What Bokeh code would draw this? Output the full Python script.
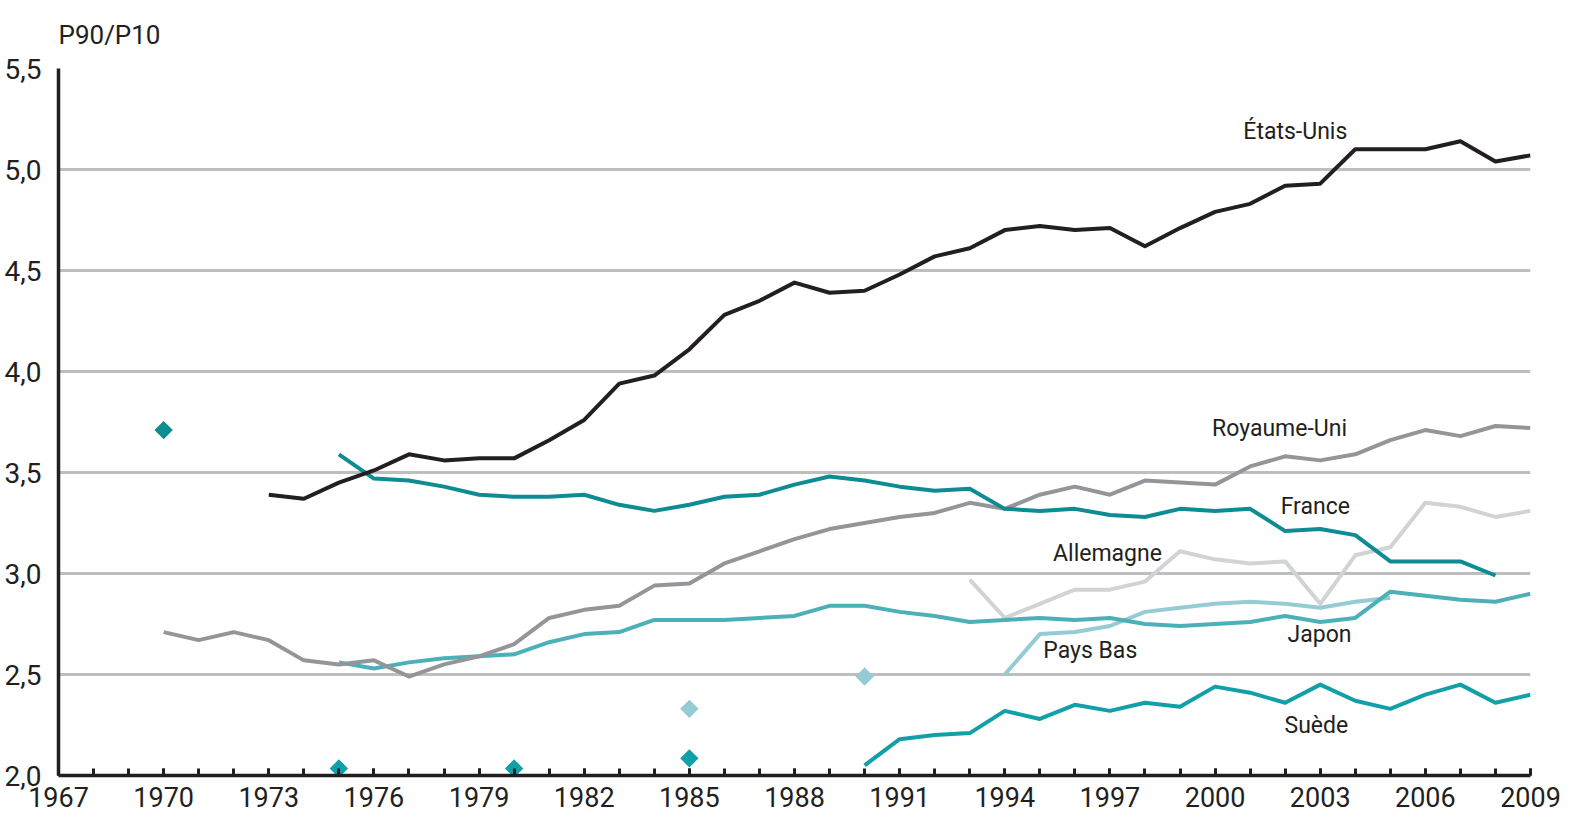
import math
from bokeh.plotting import figure
from bokeh.models import Range1d, FixedTicker, CustomJSTickFormatter
from bokeh.core.properties import value
from bokeh.embed import file_html
from bokeh.resources import INLINE

FONT = "Roboto"
TEXT = "#231f20"

# ---------------- data ----------------
years_us = list(range(1973, 2010))
us = [3.39, 3.37, 3.45, 3.51, 3.59, 3.56, 3.57, 3.57, 3.66, 3.76, 3.94, 3.98,
      4.11, 4.28, 4.35, 4.44, 4.39, 4.40, 4.48, 4.57, 4.61, 4.70, 4.72, 4.70,
      4.71, 4.62, 4.71, 4.79, 4.83, 4.92, 4.93, 5.10, 5.10, 5.10, 5.14, 5.04, 5.07]

years_uk = list(range(1970, 2010))
uk = [2.71, 2.67, 2.71, 2.67, 2.57, 2.55, 2.57, 2.49, 2.55, 2.59, 2.65, 2.78,
      2.82, 2.84, 2.94, 2.95, 3.05, 3.11, 3.17, 3.22, 3.25, 3.28, 3.30, 3.35,
      3.32, 3.39, 3.43, 3.39, 3.46, 3.45, 3.44, 3.53, 3.58, 3.56, 3.59, 3.66,
      3.71, 3.68, 3.73, 3.72]

years_fr = list(range(1975, 2009))
france = [3.59, 3.47, 3.46, 3.43, 3.39, 3.38, 3.38, 3.39, 3.34, 3.31, 3.34, 3.38,
          3.39, 3.44, 3.48, 3.46, 3.43, 3.41, 3.42, 3.32, 3.31, 3.32, 3.29, 3.28,
          3.32, 3.31, 3.32, 3.21, 3.22, 3.19, 3.06, 3.06, 3.06, 2.99]

years_jp = list(range(1975, 2010))
japan = [2.56, 2.53, 2.56, 2.58, 2.59, 2.60, 2.66, 2.70, 2.71, 2.77, 2.77, 2.77,
         2.78, 2.79, 2.84, 2.84, 2.81, 2.79, 2.76, 2.77, 2.78, 2.77, 2.78, 2.75,
         2.74, 2.75, 2.76, 2.79, 2.76, 2.78, 2.91, 2.89, 2.87, 2.86, 2.90]

years_de = list(range(1993, 2010))
germany = [2.97, 2.78, 2.85, 2.92, 2.92, 2.96, 3.11, 3.07, 3.05, 3.06, 2.85,
           3.09, 3.13, 3.35, 3.33, 3.28, 3.31]

years_nl = list(range(1994, 2006))
netherlands = [2.50, 2.70, 2.71, 2.74, 2.81, 2.83, 2.85, 2.86, 2.85, 2.83, 2.86, 2.88]

years_se = list(range(1990, 2010))
sweden = [2.05, 2.18, 2.20, 2.21, 2.32, 2.28, 2.35, 2.32, 2.36, 2.34, 2.44, 2.41,
          2.36, 2.45, 2.37, 2.33, 2.40, 2.45, 2.36, 2.40]

# isolated observations
fr_pts_years = [1970]
fr_pts = [3.71]
se_pts_years = [1975, 1980, 1985]
se_pts = [2.035, 2.035, 2.085]
nl_pts_years = [1985, 1990]
nl_pts = [2.33, 2.49]

# axes
x_tick_years = list(range(1967, 2010, 3))
x_minor_years = list(range(1967, 2010))
y_ticks = [2.0, 2.5, 3.0, 3.5, 4.0, 4.5, 5.0, 5.5]

# series labels
label_text = ["États-Unis", "Royaume-Uni", "France", "Allemagne", "Pays Bas", "Japon", "Suède"]
label_x = [2002.29, 2001.84, 2002.86, 1996.93, 1996.44, 2002.98, 2002.89]
label_y = [5.19, 3.72, 3.33, 3.10, 2.62, 2.70, 2.25]

# ---------------- colours ----------------
C_US = "#231f20"
C_UK = "#939598"
C_FR = "#0e8c93"
C_JP = "#4cb0b8"
C_DE = "#d1d3d4"
C_NL = "#95ccd4"
C_SE = "#12a0a8"

p = figure(width=1568, height=812,
           x_range=Range1d(1967, 2009), y_range=Range1d(2.0, 5.5),
           output_backend="svg", toolbar_location=None,
           min_border_left=58, min_border_right=38,
           min_border_top=68, min_border_bottom=37,
           title="P90/P10")
p.outline_line_color = None
p.background_fill_color = "white"
p.border_fill_color = "white"

# unit label as title
p.title.align = "left"
p.title.vertical_align = "top"
p.title.text_font = FONT
p.title.text_font_size = "26px"
p.title.text_font_style = "normal"
p.title.text_color = TEXT
p.title.standoff = 34

p.xgrid.visible = False
p.ygrid.ticker = FixedTicker(ticks=y_ticks)
p.ygrid.grid_line_color = "#bcbec0"
p.ygrid.grid_line_width = 3

# y axis
p.yaxis.ticker = FixedTicker(ticks=y_ticks)
p.yaxis.formatter = CustomJSTickFormatter(code="return tick.toFixed(1).replace('.', ',');")
p.yaxis.major_tick_line_color = None
p.yaxis.minor_tick_line_color = None
p.yaxis.axis_line_color = TEXT
p.yaxis.axis_line_width = 3.5
p.yaxis.major_label_text_font = FONT
p.yaxis.major_label_text_font_size = "28px"
p.yaxis.major_label_text_color = TEXT
p.yaxis.major_label_standoff = 11

# x axis
p.xaxis.ticker = FixedTicker(ticks=x_tick_years, minor_ticks=x_minor_years)
p.xaxis.axis_line_color = TEXT
p.xaxis.axis_line_width = 3.5
p.xaxis.major_tick_in = 7
p.xaxis.major_tick_out = 0
p.xaxis.major_tick_line_width = 3
p.xaxis.major_tick_line_color = TEXT
p.xaxis.minor_tick_in = 7
p.xaxis.minor_tick_out = 0
p.xaxis.minor_tick_line_width = 3
p.xaxis.minor_tick_line_color = TEXT
p.xaxis.major_label_text_font = FONT
p.xaxis.major_label_text_font_size = "27px"
p.xaxis.major_label_text_color = TEXT
p.xaxis.major_label_text_line_height = 0.7
p.xaxis.major_label_standoff = 11

# lines
series = [
    (years_de, germany, C_DE),
    (years_nl, netherlands, C_NL),
    (years_jp, japan, C_JP),
    (years_uk, uk, C_UK),
    (years_se, sweden, C_SE),
    (years_fr, france, C_FR),
    (years_us, us, C_US),
]
for xs, ys, c in series:
    p.line(xs, ys, line_color=c, line_width=4, line_join="round")

# isolated diamonds
for xs, ys, c in [(fr_pts_years, fr_pts, C_FR), (se_pts_years, se_pts, C_SE),
                  (nl_pts_years, nl_pts, C_NL)]:
    p.scatter(xs, ys, marker="square", angle=math.pi / 4, size=13,
              fill_color=c, line_color=None)

# series labels
p.text(x=label_x, y=label_y, text=label_text,
       text_font=value(FONT), text_font_size="23px", text_color=TEXT,
       text_align="center", text_baseline="middle")

open("out.html", "w").write(file_html(p, INLINE))
